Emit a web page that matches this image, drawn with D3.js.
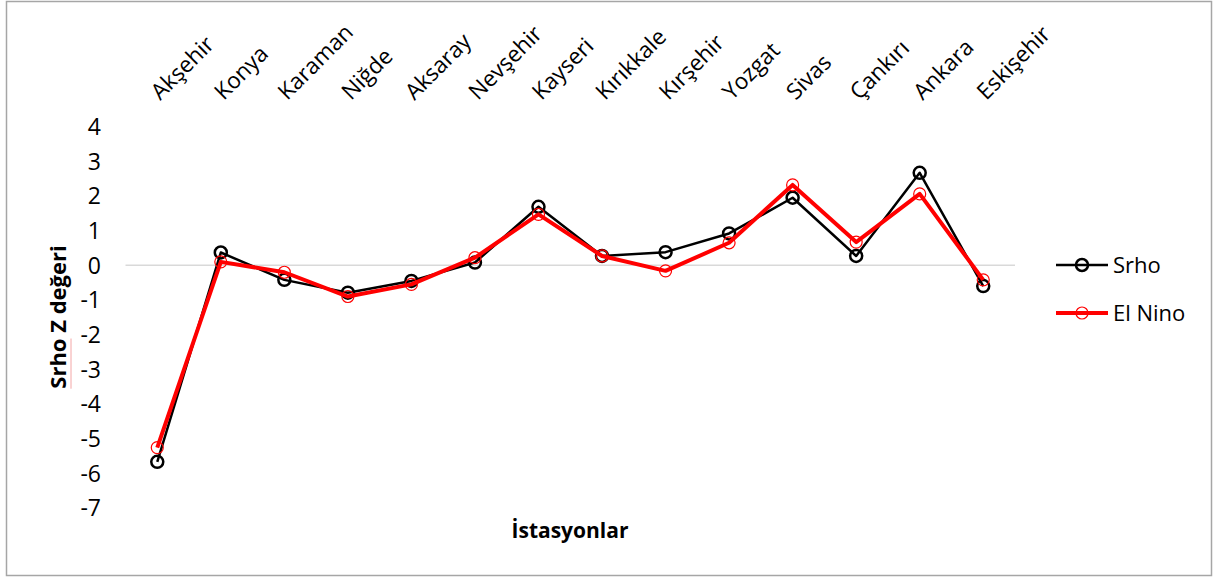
<!DOCTYPE html>
<html>
<head>
<meta charset="utf-8">
<script src="https://cdn.jsdelivr.net/npm/d3@7"></script>
<style>
  body { margin: 0; background: #fff; }
  text { font-family: "Open Sans", sans-serif; fill: #000; }
</style>
</head>
<body>
<script>
// stations and Z values
var stations = ["Akşehir", "Konya", "Karaman", "Niğde", "Aksaray", "Nevşehir", "Kayseri",
                "Kırıkkale", "Kırşehir", "Yozgat", "Sivas", "Çankırı", "Ankara", "Eskişehir"];
var srho   = [-5.67, 0.37, -0.42, -0.79, -0.45, 0.08, 1.69, 0.27, 0.38, 0.92, 1.95, 0.27, 2.67, -0.60];
var elNino = [-5.26, 0.10, -0.20, -0.90, -0.55, 0.22, 1.47, 0.27, -0.16, 0.65, 2.32, 0.67, 2.06, -0.42];
var yTicks = [4, 3, 2, 1, 0, -1, -2, -3, -4, -5, -6, -7];

var W = 1215, H = 578;

var svg = d3.select("body").append("svg")
    .attr("width", W)
    .attr("height", H);

// chart border
svg.append("rect")
    .attr("x", 6.5).attr("y", 1.5)
    .attr("width", 1205).attr("height", 574)
    .attr("fill", "none")
    .attr("stroke", "#a6a6a6")
    .attr("stroke-width", 1.5);

var x = d3.scaleBand().domain(stations).range([125.5, 1015]);
var y = d3.scaleLinear().domain([-7, 4]).range([507.9, 126.7]);

// zero gridline
svg.append("line")
    .attr("x1", x.range()[0]).attr("x2", x.range()[1])
    .attr("y1", y(0)).attr("y2", y(0))
    .attr("stroke", "#d9d9d9")
    .attr("stroke-width", 1.5);

// y tick labels
svg.selectAll(".ytick")
    .data(yTicks)
    .enter().append("text")
    .attr("class", "ytick")
    .attr("x", 101)
    .attr("y", function(d) { return y(d); })
    .attr("dy", "0.36em")
    .style("text-anchor", "end")
    .style("font-size", "23px")
    .text(function(d) { return d; });

// station labels on top, rotated
svg.selectAll(".xlab")
    .data(stations)
    .enter().append("text")
    .attr("class", "xlab")
    .attr("transform", function(d) {
        return "translate(" + (x(d) + x.bandwidth() / 2 + 3) + ",101) rotate(-45)";
    })
    .style("text-anchor", "start")
    .style("font-size", "22.5px")
    .text(function(d) { return d; });

// axis titles
var yt = svg.append("text")
    .attr("transform", "translate(66,317) rotate(-90)")
    .style("text-anchor", "middle")
    .style("font-size", "22px")
    .style("font-weight", "bold")
    .text("Srho Z değeri");

svg.append("text")
    .attr("x", 570)
    .attr("y", 538)
    .style("text-anchor", "middle")
    .style("font-size", "21px")
    .style("font-weight", "bold")
    .text("İstasyonlar");

// spell-check underline under "Srho"
var len = yt.node().getComputedTextLength();
var sub = yt.node().getSubStringLength(0, 4);
svg.append("line")
    .attr("x1", 71).attr("x2", 71)
    .attr("y1", 317 + len / 2).attr("y2", 317 + len / 2 - sub)
    .attr("stroke", "#f4a6a6")
    .attr("stroke-width", 1);

var cx = function(d, i) { return x(stations[i]) + x.bandwidth() / 2; };
var line = d3.line()
    .x(function(d, i) { return cx(d, i); })
    .y(function(d) { return y(d); });

var series = [
  {name: "Srho",    values: srho,   color: "#000000", lw: 2.5, mw: 2.5},
  {name: "El Nino", values: elNino, color: "#ff0000", lw: 4,   mw: 1.2}
];

series.forEach(function(s) {
    svg.append("path")
        .datum(s.values)
        .attr("d", line)
        .attr("fill", "none")
        .attr("stroke", s.color)
        .attr("stroke-width", s.lw)
        .attr("stroke-linejoin", "round");

    svg.selectAll(null)
        .data(s.values)
        .enter().append("circle")
        .attr("cx", cx)
        .attr("cy", function(d) { return y(d); })
        .attr("r", 6)
        .attr("fill", "none")
        .attr("stroke", s.color)
        .attr("stroke-width", s.mw);
});

// legend
var leg = svg.append("g").attr("transform", "translate(1056,265)");
series.forEach(function(s, i) {
    var g = leg.append("g").attr("transform", "translate(0," + (i * 48) + ")");
    g.append("line")
        .attr("x1", 0).attr("x2", 52)
        .attr("stroke", s.color)
        .attr("stroke-width", s.lw);
    g.append("circle")
        .attr("cx", 26).attr("r", 6)
        .attr("fill", "none")
        .attr("stroke", s.color)
        .attr("stroke-width", s.mw);
    g.append("text")
        .attr("x", 57)
        .attr("dy", "0.36em")
        .style("font-size", "22px")
        .text(s.name);
});
</script>
</body>
</html>
